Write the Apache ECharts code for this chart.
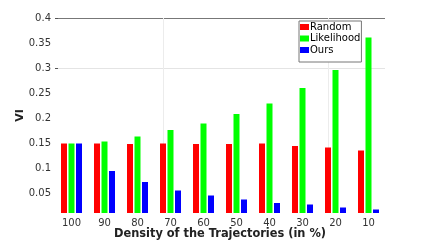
<!DOCTYPE html>
<html><head><meta charset="utf-8">
<script src="https://cdn.jsdelivr.net/npm/echarts@6/dist/echarts.min.js"></script>
<style>html,body{margin:0;padding:0;background:#fff}#c{width:424px;height:242px}</style>
</head><body><div id="c"></div>
<script>
const categories = ['100','90','80','70','60','50','40','30','20','10'];
const randomVals = [0.149,0.149,0.148,0.149,0.148,0.148,0.149,0.144,0.141,0.135];
const likelihoodVals = [0.149,0.153,0.163,0.176,0.189,0.208,0.229,0.260,0.296,0.361];
const oursVals = [0.149,0.094,0.072,0.055,0.045,0.037,0.030,0.027,0.021,0.017];
const yTicks = [0.05,0.1,0.15,0.2,0.25,0.3,0.35,0.4];
const seriesNames = ['Random','Likelihood','Ours'];

const font = 'DejaVu Sans';
const chart = echarts.init(document.getElementById('c'), null, {renderer:'canvas'});
chart.setOption({
  animation:false,
  textStyle:{fontFamily:font},
  grid:{left:55,right:39,top:18,bottom:29,containLabel:false,outerBoundsMode:'none'},
  legend:{
    data:seriesNames, orient:'vertical', left:299, top:21,
    itemWidth:9, itemHeight:6, itemGap:1.5, padding:[1,1,7,1],
    borderColor:'#777', borderWidth:1, backgroundColor:'#fff',
    textStyle:{fontFamily:font,fontSize:10,color:'#000',padding:[0,0,0,-4]},
    icon:'rect'
  },
  xAxis:{
    type:'category', data:categories,
    name:'Density of the Trajectories (in %)', nameLocation:'middle', nameGap:16, nameMoveOverlap:false,
    nameTextStyle:{fontFamily:font,fontWeight:'bold',fontSize:11.4,color:'#222'},
    axisLine:{show:false}, axisTick:{show:false},
    axisLabel:{fontFamily:font,fontSize:10,color:'#333',margin:5}
  },
  yAxis:{
    type:'value', min:0.01, max:0.4,
    name:'VI', nameLocation:'middle', nameGap:29, nameRotate:90, nameMoveOverlap:false,
    nameTextStyle:{fontFamily:font,fontWeight:'bold',fontSize:11,color:'#222'},
    axisLine:{show:false},
    axisTick:{show:true, inside:true, length:3, customValues:[0.3,0.4], lineStyle:{color:'#555'}},
    axisLabel:{customValues:yTicks, fontFamily:font,fontSize:10,color:'#333',margin:4,
      formatter:v=>String(+v.toFixed(2))},
    splitLine:{show:false}
  },
  series:[
    {name:'Random',type:'bar',data:randomVals,barWidth:6,barGap:'25%',itemStyle:{color:'#ff0000'},
     markLine:{symbol:'none',silent:true,label:{show:false},z:0,
       data:[
         {yAxis:0.3,lineStyle:{color:'#e4e4e4',width:1,type:'solid'}},
         {yAxis:0.4,lineStyle:{color:'#777',width:1,type:'solid'}},
         {xAxis:'70',lineStyle:{color:'#ececec',width:1,type:'solid'}},
         {xAxis:'20',lineStyle:{color:'#ececec',width:1,type:'solid'}}
       ]}},
    {name:'Likelihood',type:'bar',data:likelihoodVals,barWidth:6,barGap:'25%',itemStyle:{color:'#00ff00'}},
    {name:'Ours',type:'bar',data:oursVals,barWidth:6,barGap:'25%',itemStyle:{color:'#0000ff'}}
  ]
});
</script></body></html>
